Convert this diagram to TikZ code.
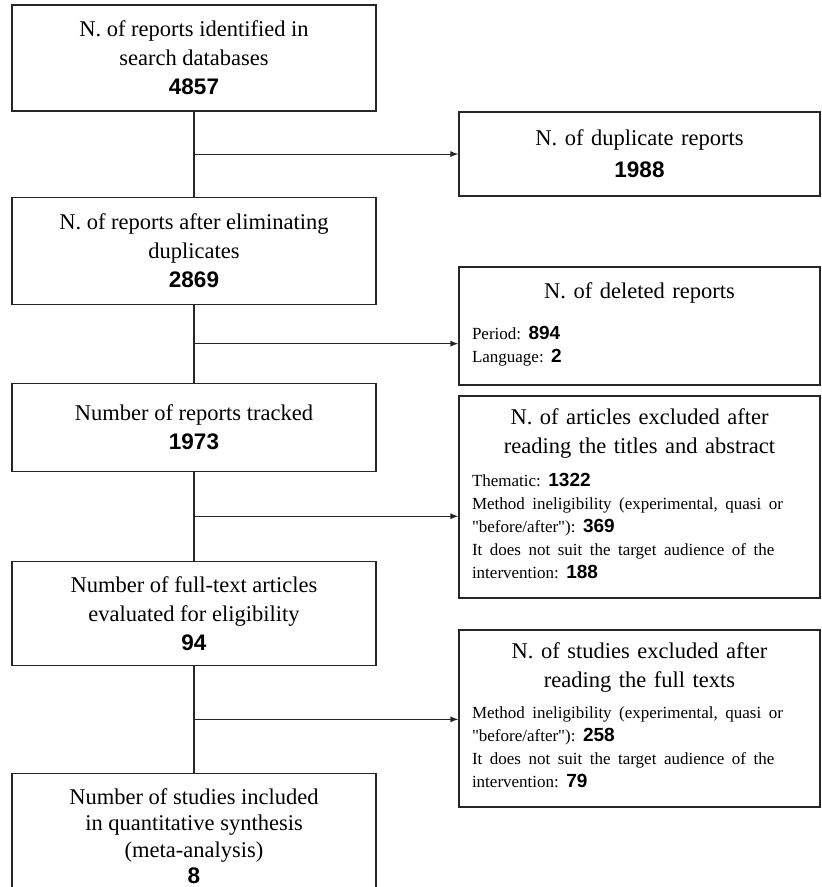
\documentclass[tikz,border=0pt]{standalone}
\usepackage{fontspec}
\setmainfont{Liberation Serif}
\newfontfamily\numfont{Liberation Sans}
\newfontfamily\listserif{Liberation Serif}
\usetikzlibrary{positioning, calc, arrows.meta}
\frenchspacing
\newcommand{\repnum}[1]{{\numfont\bfseries #1}}
\newcommand{\smallnum}[1]{{\numfont\bfseries\fontsize{19}{23}\selectfont #1}}
\newcommand{\listfont}{\listserif\fontsize{17}{23}\selectfont}
\tikzstyle{mainbox} = [draw=black!85, line width=1.1pt, minimum width=364pt, inner sep=6pt, align=center, font=\fontsize{22.5}{29}\selectfont]
\tikzstyle{sidebox} = [draw=black!85, line width=1.1pt, text width=335pt, inner xsep=13pt, inner ysep=6pt, font=\fontsize{22.5}{29}\selectfont]

\begin{document}
\begin{tikzpicture}[>={Latex[length=8pt,width=6pt]}, line width=1.1pt, draw=black!85]
			\useasboundingbox (0,0) rectangle (822pt,-887pt);
			\node[mainbox, minimum height=106pt] at (194pt,-58pt)  (found)    {N. of reports identified in\\search databases\\\repnum{4857}};
			\node[mainbox, minimum height=107pt, below=85pt of found]    (unique)   {N. of reports after eliminating\\duplicates\\\repnum{2869}};
			\node[mainbox, minimum height=88pt, below=78pt of unique]    (tracked)  {Number of reports tracked\\\repnum{1973}};
			\node[mainbox, minimum height=104pt, below=89pt of tracked]  (eligible) {Number of full-text articles\\evaluated for eligibility\\\repnum{94}};
			\node[mainbox, minimum height=126pt, below=107pt of eligible, font=\fontsize{22.5}{26.5}\selectfont] (included) {Number of studies included\\in quantitative synthesis\\(meta-analysis)\\\repnum{8}};

			\node[sidebox, minimum height=84pt] at (639.5pt,-154pt)   (duplicates) {{\centering\fontsize{22.5}{32}\selectfont N. of duplicate reports\\\repnum{1988}\par}};
			\node[sidebox, minimum height=118pt] at (639.5pt,-326pt)  (deleted)    {{\centering N. of deleted reports\par}\vspace{18pt}
				{\listfont\begin{tabular}[t]{@{}l@{}}Period: \smallnum{894}\\Language: \smallnum{2}\end{tabular}\par}};
			\node[sidebox, minimum height=202pt] at (639.5pt,-497pt)  (screened)   {{\centering N. of articles excluded after\\reading the titles and abstract\par}\vspace{10pt}
				{\listfont\begin{tabular}[t]{@{}l@{}}Thematic: \smallnum{1322}\\Method ineligibility (experimental, quasi or\\"before/after"): \smallnum{369}\\It does not suit the target audience of the\\intervention: \smallnum{188}\end{tabular}\par}};
			\node[sidebox, minimum height=177pt] at (639.5pt,-718.5pt) (fulltext)  {{\centering N. of studies excluded after\\reading the full texts\par}\vspace{8pt}
				{\listfont\begin{tabular}[t]{@{}l@{}}Method ineligibility (experimental, quasi or\\"before/after"): \smallnum{258}\\It does not suit the target audience of the\\intervention: \smallnum{79}\end{tabular}\par}};

			\coordinate (split1) at ($(found.south)!0.5!(unique.north)$);
			\coordinate (split2) at ($(unique.south)!0.5!(tracked.north)$);
			\coordinate (split3) at ($(tracked.south)!0.5!(eligible.north)$);
			\coordinate (split4) at ($(eligible.south)!0.5!(included.north)$);

			\draw (found) -- (unique);
			\draw (unique) -- (tracked);
			\draw (tracked) -- (eligible);
			\draw (eligible) -- (included);
			\draw[->] (split1) -- (split1-|duplicates.west);
			\draw[->] (split2) -- (split2-|deleted.west);
			\draw[->] (split3) -- (split3-|screened.west);
			\draw[->] (split4) -- (split4-|fulltext.west);

		\end{tikzpicture}
\end{document}
